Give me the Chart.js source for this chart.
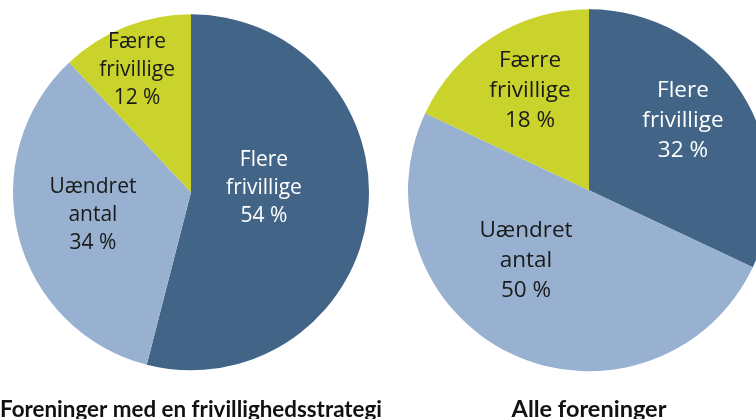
<!DOCTYPE html>
<html>
<head>
<meta charset="utf-8">
<script src="https://cdn.jsdelivr.net/npm/chart.js@4"></script>
<style>
  html, body { margin: 0; padding: 0; background: #fff; overflow: hidden; width: 756px; height: 419px; }
  canvas { position: absolute; top: 0; }
</style>
</head>
<body>
<canvas id="pie_strategi" width="382" height="424" style="left:0px"></canvas>
<canvas id="pie_alle" width="370" height="424" style="left:404px"></canvas>
<script>
// Kategorier og værdier (procent)
var categories = ['Flere frivillige', 'Uændret antal', 'Færre frivillige'];
var strategiValues = [54, 34, 12];
var alleValues = [32, 50, 18];
var chartTitles = ['Foreninger med en frivillighedsstrategi', 'Alle foreninger'];

var sliceColors = ['#426587', '#98b1d0', '#cad32b'];
var textColors = ['#ffffff', '#1a1a1a', '#1a1a1a'];

// Plugin der skriver etiketten inde i hvert stykke
var sliceLabels = {
  id: 'sliceLabels',
  afterDatasetsDraw: function (chart, args, opts) {
    var ctx = chart.ctx;
    var meta = chart.getDatasetMeta(0);
    var values = chart.data.datasets[0].data;
    ctx.save();
    ctx.font = opts.size + 'px "Open Sans", sans-serif';
    ctx.textAlign = 'center';
    ctx.textBaseline = 'alphabetic';
    meta.data.forEach(function (arc, i) {
      var lines = chart.data.labels[i].split(' ').concat([values[i] + ' %']);
      var ax = arc.x + opts.anchors[i][0] * arc.outerRadius;
      var ay = arc.y + opts.anchors[i][1] * arc.outerRadius;
      ctx.fillStyle = textColors[i];
      lines.forEach(function (line, k) {
        ctx.fillText(line, ax, ay + (k - 1) * opts.lineSpacing);
      });
    });
    ctx.restore();
  }
};

function makePie(id, values, title, radius, titlePad, anchors, size, lineSpacing) {
  var ctx = document.getElementById(id).getContext('2d');
  return new Chart(ctx, {
    type: 'pie',
    data: {
      labels: categories,
      datasets: [{
        data: values,
        backgroundColor: sliceColors,
        borderWidth: 0
      }]
    },
    options: {
      responsive: false,
      animation: false,
      radius: radius,
      layout: { padding: { top: 0, bottom: 2.5, left: 0, right: 0 } },
      plugins: {
        legend: { display: false },
        tooltip: { enabled: false },
        title: {
          display: true,
          position: 'bottom',
          text: title,
          color: '#111111',
          font: { family: 'Lato', size: 23.5, weight: 'bold', lineHeight: 1 },
          padding: { top: titlePad, bottom: 0 }
        },
        sliceLabels: { anchors: anchors, size: size, lineSpacing: lineSpacing }
      }
    },
    plugins: [sliceLabels]
  });
}

makePie('pie_strategi', strategiValues, chartTitles[0], 178, 13.4,
  [[0.41, 0.011], [-0.551, 0.163], [-0.303, -0.652]], 21, 28);
makePie('pie_alle', alleValues, chartTitles[1], 181, 17.4,
  [[0.519, -0.348], [-0.348, 0.425], [-0.326, -0.514]], 22.5, 30);
</script>
</body>
</html>
